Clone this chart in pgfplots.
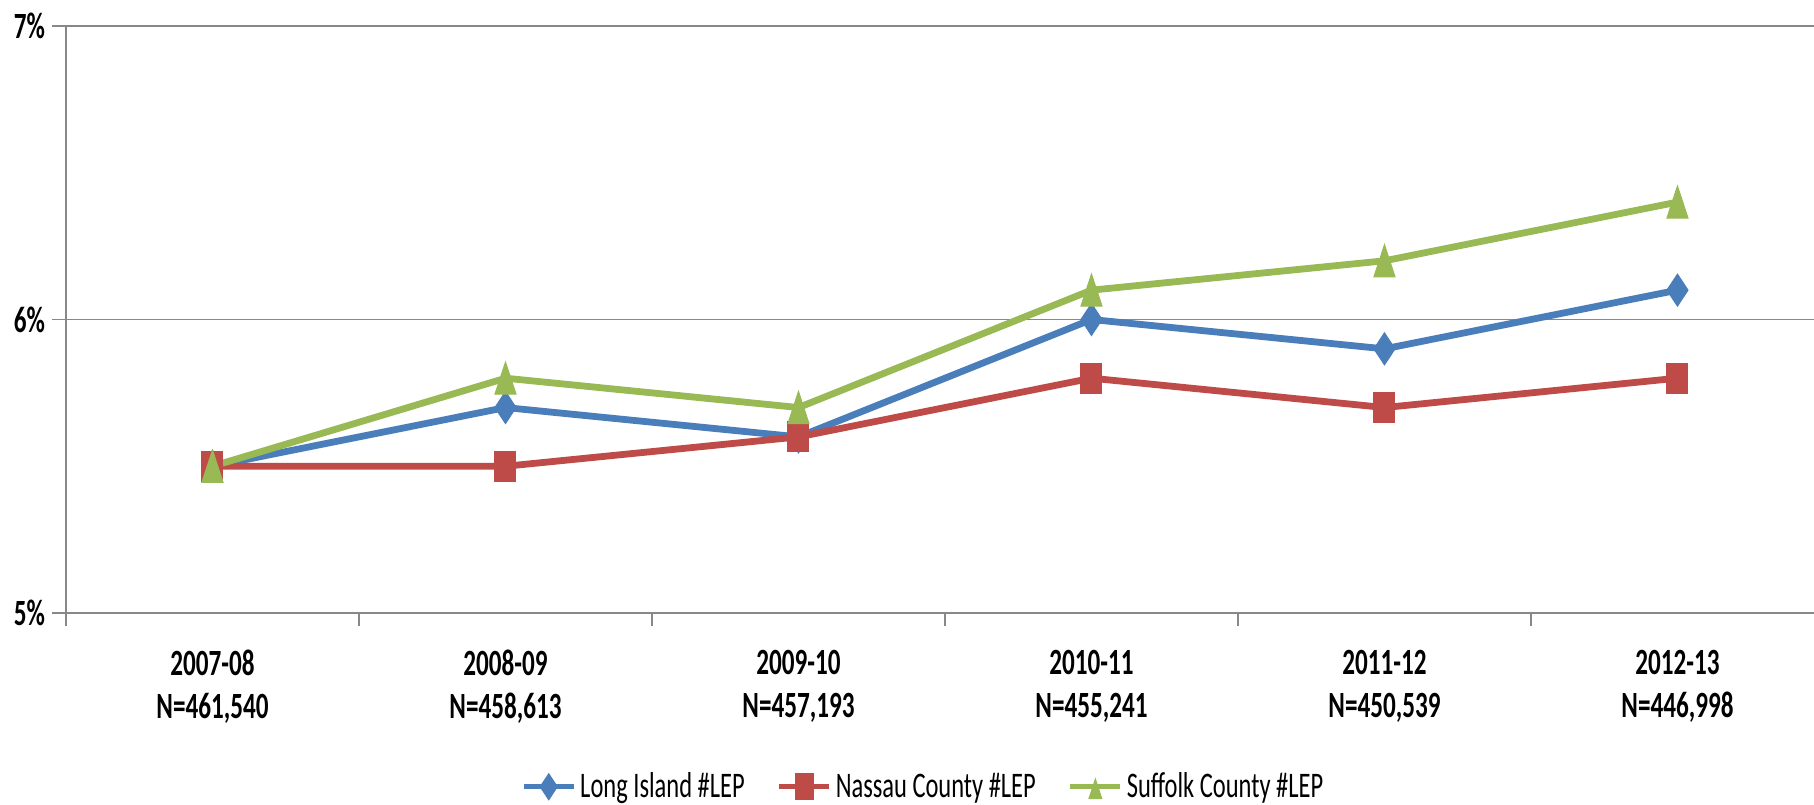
\documentclass[border=0pt]{standalone}
\usepackage{fontspec}
\setmainfont{Carlito}
\usepackage{graphicx}
\usepackage{pgfplots}
\pgfplotsset{compat=1.18}
\newcommand{\sq}[1]{\scalebox{0.68}[1]{#1}}
\definecolor{liblue}{HTML}{4A7EBB}
\definecolor{nared}{HTML}{BE4B48}
\definecolor{sugreen}{HTML}{98B954}
\definecolor{axgray}{HTML}{888888}
\begin{document}
\begin{tikzpicture}
\begin{axis}[
  name=ax, scale only axis, width=874bp, height=293.5bp,
  xmin=-0.5, xmax=5.466, ymin=5, ymax=7,
  axis lines=left,
  axis line style={draw=axgray, line width=0.9bp, -},
  tick align=outside,
  xtick={0,1,2,3,4,5},
  xticklabels={
    {\sq{2007-08}\\\sq{N=461,540}},
    {\sq{2008-09}\\\sq{N=458,613}},
    {\sq{2009-10}\\\sq{N=457,193}},
    {\sq{2010-11}\\\sq{N=455,241}},
    {\sq{2011-12}\\\sq{N=450,539}},
    {\sq{2012-13}\\\sq{N=446,998}}},
  minor xtick={-0.5,0.5,1.5,2.5,3.5,4.5},
  ytick={5,6,7},
  yticklabels={\sq{5\%},\sq{6\%},\sq{7\%}},
  ymajorgrids,
  major grid style={draw=axgray, line width=0.9bp},
  major tick length=7bp, minor tick length=6.5bp,
  every major x tick/.append style={draw=none},
  tick style={draw=axgray, line width=0.9bp},
  ticklabel style={font=\bfseries\fontsize{18.5bp}{21.5bp}\selectfont},
  xticklabel style={align=center, yshift=-8bp},
  clip=false,
  legend style={at={(0.491,-0.296)}, anchor=center, draw=none, legend columns=3,
    font=\fontsize{18bp}{21bp}\selectfont,
    /tikz/every even column/.append style={column sep=14bp}},
  legend cell align=left,
  legend image code/.code={\draw[mark repeat=2,mark phase=2,#1,mark size=6.5bp,line width=2.5bp] plot coordinates {(0bp,0bp)(12.5bp,0bp)(25bp,0bp)};},
]
\addplot[liblue, line width=3.4bp, mark=diamond*, mark size=8bp, mark options={xscale=0.88, line width=0.5bp, solid}]
  coordinates {(0,5.5)(1,5.7)(2,5.6)(3,6.0)(4,5.9)(5,6.1)};
\addlegendentry{\sq{Long Island \#LEP}}
\addplot[nared, line width=3.4bp, mark=square*, mark size=7.5bp, mark options={xscale=0.7, line width=0.5bp, solid}]
  coordinates {(0,5.5)(1,5.5)(2,5.6)(3,5.8)(4,5.7)(5,5.8)};
\addlegendentry{\sq{Nassau County \#LEP}}
\addplot[sugreen, line width=3.4bp, mark=triangle*, mark size=10.7bp, mark options={xscale=0.57, yshift=-2.67bp, line width=0.5bp, solid}]
  coordinates {(0,5.5)(1,5.8)(2,5.7)(3,6.1)(4,6.2)(5,6.4)};
\addlegendentry{\sq{Suffolk County \#LEP}}
\end{axis}
\pgfresetboundingbox
\path ([shift={(-33bp,-96bp)}]ax.south west) rectangle ([shift={(0bp,13bp)}]ax.north east);
\end{tikzpicture}
\end{document}
